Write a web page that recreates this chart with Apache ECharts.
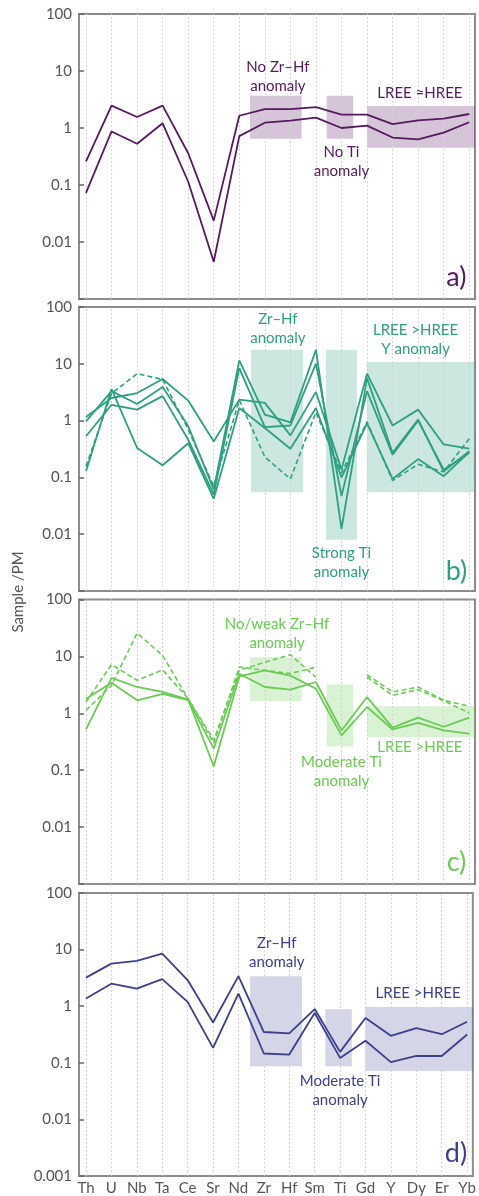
<!DOCTYPE html>
<html>
<head>
<meta charset="utf-8">
<script src="https://cdn.jsdelivr.net/npm/echarts@6/dist/echarts.min.js"></script>
<style>
html,body{margin:0;padding:0;background:#fff;}
#chart{width:479px;height:1196px;}
</style>
</head>
<body>
<div id="chart"></div>
<script>
// ---------- DATA ----------
const categories = ['Th','U','Nb','Ta','Ce','Sr','Nd','Zr','Hf','Sm','Ti','Gd','Y','Dy','Er','Yb'];
const yTickValues = [0.001, 0.01, 0.1, 1, 10, 100];

// panel a
const a1 = [0.26, 2.47, 1.56, 2.47, 0.36, 0.0237, 1.64, 2.15, 2.15, 2.33, 1.71, 1.71, 1.17, 1.36, 1.46, 1.76];
const a2 = [0.073, 0.87, 0.53, 1.21, 0.114, 0.0045, 0.72, 1.24, 1.35, 1.52, 1.0, 1.1, 0.68, 0.63, 0.83, 1.26];
// panel b
const b1 = [1.16, 2.5, 3.06, 5.4, 2.25, 0.43, 2.34, 2.05, 0.55, 3.2, 0.137, 6.7, 0.82, 1.56, 0.38, 0.32];
const b2 = [0.97, 3.3, 1.96, 3.9, 0.8, 0.061, 11.5, 1.27, 0.93, 17.7, 0.0124, 5.6, 0.27, 1.04, 0.128, 0.29];
const b3 = [0.53, 1.9, 1.56, 2.7, 0.46, 0.05, 8.4, 0.77, 0.82, 10.1, 0.047, 3.3, 0.25, 1.0, 0.137, 0.27];
const b4 = [0.128, 3.6, 0.33, 0.164, 0.4, 0.042, 1.67, 0.74, 0.32, 1.67, 0.1, 0.89, 0.094, 0.21, 0.105, 0.28];
const bDash = [0.157, 3.0, 6.7, 5.3, 0.7, 0.07, 2.3, 0.23, 0.094, 1.4, 0.12, 0.95, 0.088, 0.17, 0.125, 0.48];
// panel c
const c1 = [0.52, 4.2, 2.9, 2.37, 1.74, 0.117, 4.45, 5.7, 4.6, 2.7, 0.41, 1.29, 0.52, 0.68, 0.5, 0.44];
const c2 = [1.8, 3.45, 1.69, 2.2, 1.7, 0.24, 4.97, 2.9, 2.6, 3.55, 0.5, 1.93, 0.56, 0.84, 0.58, 0.84];
const cDash1 = [1.58, 7.2, 3.8, 5.8, 1.8, 0.3, 6.5, 5.7, 5.0, 6.5, null, 4.76, 2.37, 2.9, 1.69, 1.33];
const cDash2 = [1.13, 3.1, 25.7, 10.4, 1.8, 0.34, 5.7, 7.9, 10.7, 4.3, null, 4.3, 2.07, 2.6, 1.66, 1.01];
// panel d
const d1 = [3.2, 5.66, 6.3, 8.5, 2.9, 0.515, 3.4, 0.35, 0.33, 0.89, 0.156, 0.62, 0.3, 0.41, 0.32, 0.53];
const d2 = [1.37, 2.5, 2.05, 3.0, 1.19, 0.184, 1.67, 0.146, 0.14, 0.76, 0.122, 0.245, 0.103, 0.133, 0.132, 0.316];

// shaded boxes: [xFrom, xTo, yLow, yHigh] in category-index / value units
const X_MIN = -0.274, X_MAX = 15.226;
const boxesA = [[6.42, 8.44, 0.65, 3.69], [9.42, 10.46, 0.65, 3.69], [11.0, X_MAX, 0.45, 2.43]];
const boxesB = [[6.46, 8.5, 0.055, 17.7], [9.39, 10.6, 0.008, 17.7], [10.99, X_MAX, 0.055, 10.8]];
const boxesC = [[6.42, 8.44, 1.65, 9.7], [9.42, 10.46, 0.26, 3.2], [11.0, X_MAX, 0.38, 1.33]];
const boxesD = [[6.46, 8.5, 0.087, 3.38], [9.42, 10.46, 0.087, 0.885], [10.99, X_MAX, 0.072, 0.97]];

// annotations
const notesA = [['No Zr–Hf\nanomaly', 7.51, 8.0], ['No Ti\nanomaly', 10.0, 0.258], ['LREE ≈HREE', 13.07, 4.1]];
const notesB = [['Zr–Hf\nanomaly', 7.51, 41.7], ['LREE >HREE\nY anomaly', 12.9, 26.1], ['Strong Ti\nanomaly', 10.0, 0.0031]];
const notesC = [['No/weak Zr–Hf\nanomaly', 7.48, 24.8], ['Moderate Ti\nanomaly', 10.0, 0.0944], ['LREE >HREE', 13.07, 0.256]];
const notesD = [['Zr–Hf\nanomaly', 7.51, 8.74], ['LREE >HREE', 13.07, 1.68], ['Moderate Ti\nanomaly', 10.0, 0.0328]];
const panelTags = [['a)', 14.5, 0.00243], ['b)', 14.5, 0.00222], ['c)', 14.5, 0.00244], ['d)', 14.56, 0.00253]];

// ---------- STYLE ----------
const FONT = 'Lato, "Open Sans", sans-serif';
const panels = [
  { top: 14,  height: 285, color: '#561a5e', box: 'rgba(120,60,130,0.30)', solid: [a1, a2], dashed: [], boxes: boxesA, notes: notesA },
  { top: 307, height: 284, color: '#2f9f82', box: 'rgba(47,159,130,0.25)', solid: [b1, b2, b3, b4], dashed: [bDash], boxes: boxesB, notes: notesB },
  { top: 599.5, height: 284.5, color: '#6acb55', box: 'rgba(106,203,85,0.25)', solid: [c1, c2], dashed: [cDash1, cDash2], boxes: boxesC, notes: notesC },
  { top: 893, height: 283, color: '#3c3f8c', box: 'rgba(60,63,140,0.22)', solid: [d1, d2], dashed: [], boxes: boxesD, notes: notesD }
];

function fmtTick(v) {
  if (v >= 1) return String(Math.round(v));
  return String(Number(v.toPrecision(1)));
}
function toPairs(arr) { return arr.map((v, i) => [i, v == null ? '-' : v]); }

const grid = [], xAxis = [], yAxis = [], series = [];
panels.forEach((p, k) => {
  const last = k === panels.length - 1;
  grid.push({ left: 79, width: 396, top: p.top, height: p.height, show: true,
    borderColor: '#8c8c8c', borderWidth: 2, backgroundColor: 'transparent' });
  xAxis.push({
    type: 'value', gridIndex: k, min: X_MIN, max: X_MAX,
    axisLine: { show: true, onZero: false, lineStyle: { color: '#8c8c8c', width: 2 } },
    axisTick: { show: false }, splitLine: { show: false },
    axisLabel: last ? {
      show: true, customValues: categories.map((c, i) => i),
      formatter: v => (categories[Math.round(v)] !== undefined && Math.abs(v - Math.round(v)) < 1e-6) ? categories[Math.round(v)] : '',
      color: '#555', fontSize: 15, fontFamily: FONT, margin: 5
    } : { show: false }
  });
  yAxis.push({
    type: 'log', logBase: 10, gridIndex: k, min: 0.001, max: 100,
    axisLine: { show: true, onZero: false, lineStyle: { color: '#8c8c8c', width: 2 } },
    axisTick: { show: true, inside: true, length: 5, lineStyle: { color: '#666', width: 1.5 } },
    splitLine: { show: false },
    axisLabel: {
      color: '#555', fontSize: 15, fontFamily: FONT, margin: 7,
      formatter: v => (!last && v < 0.002) ? '' : fmtTick(v)
    }
  });
  const tag = panelTags[k];
  // decor: grid lines, shaded boxes, annotations
  series.push({
    type: 'line', xAxisIndex: k, yAxisIndex: k, data: [], z: 1, silent: true,
    markLine: {
      silent: true, symbol: ['none', 'none'], z: 1,
      label: { show: false },
      lineStyle: { color: '#d4d4d4', type: [2, 2], width: 1 },
      data: categories.map((c, i) => ({ xAxis: i }))
    },
    markArea: {
      silent: true, z: 1,
      itemStyle: { color: p.box },
      data: p.boxes.map(b => [{ coord: [b[0], b[3]] }, { coord: [b[1], b[2]] }])
    },
    markPoint: {
      silent: true, z: 6, symbol: 'circle', symbolSize: 1,
      itemStyle: { color: 'transparent' },
      data: p.notes.map(n => ({
        coord: [n[1], n[2]],
        label: { show: true, position: 'inside', formatter: n[0], color: p.color,
          fontSize: 15, lineHeight: 19, fontFamily: FONT, align: 'center' }
      })).concat([{
        coord: [tag[1], tag[2]],
        label: { show: true, position: 'inside', formatter: tag[0], color: p.color,
          fontSize: 27, fontFamily: FONT }
      }])
    }
  });
  p.solid.forEach(arr => series.push({
    type: 'line', xAxisIndex: k, yAxisIndex: k, data: toPairs(arr), z: 3,
    symbol: 'none', connectNulls: false, silent: true,
    lineStyle: { color: p.color, width: 1.8 }
  }));
  p.dashed.forEach(arr => series.push({
    type: 'line', xAxisIndex: k, yAxisIndex: k, data: toPairs(arr), z: 3,
    symbol: 'none', connectNulls: false, silent: true,
    lineStyle: { color: p.color, width: 1.6, type: [5, 3] }
  }));
});

const chart = echarts.init(document.getElementById('chart'), null, { renderer: 'canvas' });
chart.setOption({
  backgroundColor: '#fff',
  animation: false,
  grid, xAxis, yAxis, series,
  graphic: [{
    type: 'text', x: 18, y: 592, rotation: Math.PI / 2,
    style: { text: 'Sample /PM', fill: '#555', font: '15px ' + FONT, textAlign: 'center', textVerticalAlign: 'middle' }
  }]
});
</script>
</body>
</html>
